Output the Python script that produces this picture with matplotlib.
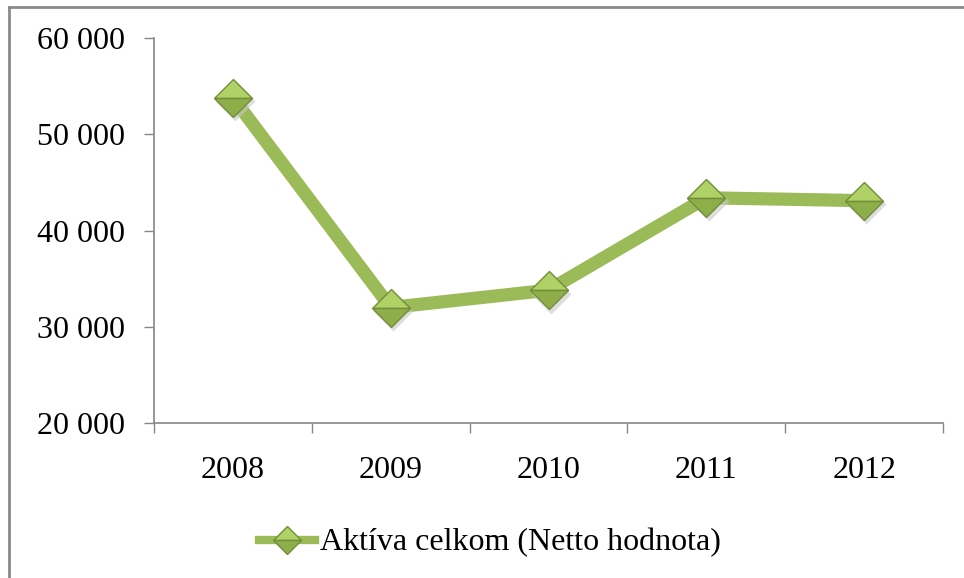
import matplotlib
matplotlib.use("Agg")
import matplotlib.pyplot as plt
from matplotlib.lines import Line2D
from matplotlib.ticker import FuncFormatter, FixedLocator, NullFormatter

years = ["2008", "2009", "2010", "2011", "2012"]
values = [53800, 32000, 33800, 43400, 43100]
series_label = "Aktíva celkom (Netto hodnota)"
y_ticks = [20000, 30000, 40000, 50000, 60000]

plt.rcParams['font.family'] = ['Liberation Serif', 'DejaVu Serif']

W, H = 964, 578
fig = plt.figure(figsize=(W / 100, H / 100), dpi=100)
ax = fig.add_axes([154 / W, 1 - 423 / H, (943 - 154) / W, (423 - 38) / H])

line_color = "#9BBB59"
x = list(range(len(years)))

ax.plot(x, values, color=line_color, lw=9.5, solid_capstyle='butt', zorder=2)
ax.plot([i + 0.015 for i in x], [v - 350 for v in values], linestyle='none', marker='D',
        ms=20, mfc='#c8c8c8', mec='none', alpha=0.6, zorder=3)
ax.plot(x, values, linestyle='none', marker='D', ms=19.5, fillstyle='top',
        mfc='#B0D166', mfcalt='#8DAE49', mec='#728E3A', mew=1.0, zorder=4)

ax.set_xlim(-0.5, len(years) - 0.5)
ax.set_ylim(20000, 60000)

ax.xaxis.set_major_locator(FixedLocator([i - 0.5 for i in range(len(years) + 1)]))
ax.xaxis.set_major_formatter(NullFormatter())
ax.xaxis.set_minor_locator(FixedLocator(x))
ax.set_xticklabels(years, minor=True)
ax.tick_params(axis='x', which='major', length=7, width=1, color='#868686', direction='out')
ax.tick_params(axis='x', which='minor', length=0, pad=24, labelsize=23)

ax.set_yticks(y_ticks)
ax.yaxis.set_major_formatter(FuncFormatter(lambda v, p: f"{int(v):,}".replace(",", " ")))
ax.tick_params(axis='y', length=7, width=1, color='#868686', direction='out', pad=14, labelsize=23)

for s in ['top', 'right']:
    ax.spines[s].set_visible(False)
for s in ['left', 'bottom']:
    ax.spines[s].set_color('#868686')
    ax.spines[s].set_linewidth(1.2)

handle = Line2D([0], [0], color=line_color, lw=6, marker='D', ms=14, fillstyle='top',
                mfc='#B0D166', mfcalt='#8DAE49', mec='#728E3A', mew=1)
fig.legend([handle], [series_label], loc='center', bbox_to_anchor=(490 / W, 1 - 543 / H),
           frameon=False, fontsize=23, handlelength=1.75, handletextpad=0.15)

fig.add_artist(Line2D([8.5 / W, 1], [1 - 6.5 / H, 1 - 6.5 / H], color='#8a8a8a', lw=2,
                      transform=fig.transFigure))
fig.add_artist(Line2D([9 / W, 9 / W], [0, 1 - 6.5 / H], color='#8a8a8a', lw=2,
                      transform=fig.transFigure))

fig.savefig("out.png", dpi=100)
